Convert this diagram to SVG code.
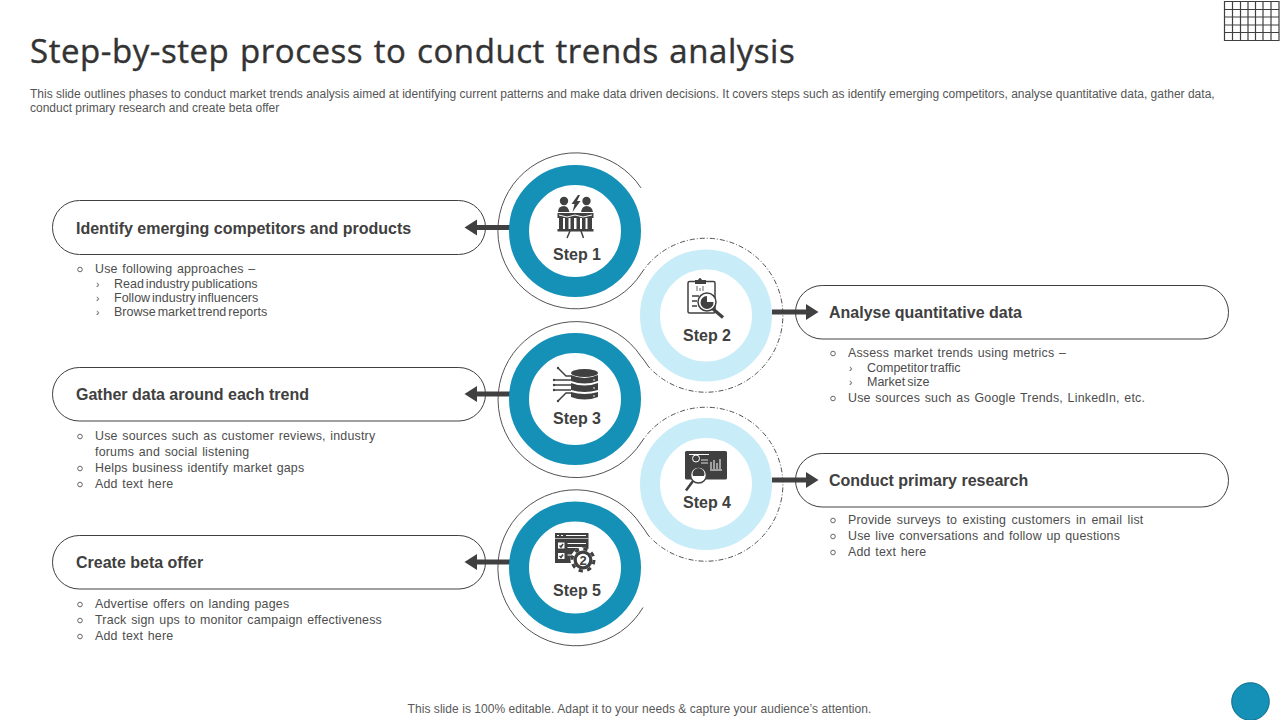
<svg xmlns="http://www.w3.org/2000/svg" width="1280" height="720" viewBox="0 0 1280 720">
<style>
text{font-family:"Liberation Sans",Arial,sans-serif;fill:#404040}
.title{font-family:"Open Sans","Liberation Sans",sans-serif;font-size:33px;fill:#333;stroke:#333;stroke-width:.4;letter-spacing:.55px;word-spacing:1.500px}
.sub{font-size:12px;fill:#555}
.head{font-size:16px;font-weight:700}
.step{font-size:16px;font-weight:700;text-anchor:middle}
.b{font-size:12.4px;fill:#4d4d4d;letter-spacing:.2px;word-spacing:1px}
.s{font-size:12.500px;fill:#4d4d4d;word-spacing:-1.500px}
.c{font-size:10px;fill:#4d4d4d}
.pill{fill:#fff;stroke:#404040;stroke-width:1}
.ring1{fill:#fff;stroke:#1591b8;stroke-width:20}
.ring2{fill:#fff;stroke:#c9edf8;stroke-width:20}
.thin{fill:none;stroke:#404040;stroke-width:.9}
.dash{fill:none;stroke:#404040;stroke-width:.9;stroke-dasharray:5 2 1 2}
.ar{fill:#404040;stroke:none}
.ic{fill:#404040}
.icl{fill:none;stroke:#404040;stroke-width:1.500}
.w{fill:none;stroke:#fff;stroke-width:1}
.bul{fill:none;stroke:#555;stroke-width:.9}
</style>
<rect width="1280" height="720" fill="#fff"/>
<text x="30" y="63" class="title">Step-by-step process to conduct trends analysis</text>
<text x="30" y="98" class="sub">This slide outlines phases to conduct market trends analysis aimed at identifying current patterns and make data driven decisions. It covers steps such as identify emerging competitors, analyse quantitative data, gather data,</text>
<text x="30" y="112" class="sub">conduct primary research and create beta offer</text>
<path id="grid" fill="none" stroke="#404040" stroke-width="1.200" d="M1224.500 1.500H1279V40.500H1224.500ZM1224.500 9.500H1279M1224.500 17H1279M1224.500 25H1279M1224.500 32.500H1279M1232.500 1.500V40.500M1240.500 1.500V40.500M1248 1.500V40.500M1255.500 1.500V40.500M1263 1.500V40.500M1271 1.500V40.500"/>
<g id="connectors">
<path class="thin" d="M641 187.900A78 78 0 1 0 641.500 273"/>
<path class="dash" d="M641.500 273A77 77 0 1 1 648 366"/>
<path class="thin" d="M648 366Q645 361 641 356.400A78 78 0 1 0 641.500 442"/>
<path class="dash" d="M641.500 442A77 77 0 1 1 648 535"/>
<path class="thin" d="M648 535Q645 530 641 524.900A78 78 0 1 0 643 607.500"/>
</g>
<g id="pill1"><rect class="pill" x="52.500" y="200.500" width="433" height="54" rx="27"/><text x="76" y="234" class="head">Identify emerging competitors and products</text></g>
<g id="pill3"><rect class="pill" x="52.500" y="367.500" width="433" height="53.500" rx="26.700"/><text x="76" y="400" class="head">Gather data around each trend</text></g>
<g id="pill5"><rect class="pill" x="52.500" y="535.500" width="433" height="53.500" rx="26.700"/><text x="76" y="568" class="head">Create beta offer</text></g>
<g id="pill2"><rect class="pill" x="795.500" y="285.500" width="433" height="53.500" rx="26.700"/><text x="829" y="318" class="head">Analyse quantitative data</text></g>
<g id="pill4"><rect class="pill" x="795.500" y="453.500" width="433" height="53.500" rx="26.700"/><text x="829" y="486" class="head">Conduct primary research</text></g>
<g id="arrows">
<path class="ar" d="M510 225V230H477V235.500L464.500 227.500L477 219.500V225Z"/>
<path class="ar" d="M510 391.500V396.500H477V402L464.500 394L477 386V391.500Z"/>
<path class="ar" d="M510 559.500V564.500H477V570L464.500 562L477 554V559.500Z"/>
<path class="ar" d="M772 309.500V314.500H806V320L818.500 312L806 304V309.500Z"/>
<path class="ar" d="M772 477.500V482.500H806V488L818.500 480L806 472V477.500Z"/>
</g>
<g id="step1"><circle class="ring1" cx="575" cy="231" r="56"/>
<circle class="ic" cx="564" cy="201" r="4.200"/><circle class="ic" cx="586.500" cy="201" r="4.200"/>
<path class="ic" d="M558 212Q558 206 564 206Q568 206 569.500 212ZM581 212Q582 206 586.500 206Q592 206 593 212ZM578 195L571.500 204H574.500L572.500 212L580.500 201H577L580 195Z"/>
<path class="ic" d="M557.500 213H593.500V218H557.500ZM559 218H563V229H559ZM565 218H568.500V229H565ZM570.500 218H574V229H570.500ZM576.500 218H580V229H576.500ZM582 218H585.500V229H582ZM587.500 218H592V229H587.500ZM557.500 229H593.500V231.500H557.500Z"/>
<path class="w" d="M559 215L567 217L575 215L583 217L592 215" stroke-width=".8"/>
<path class="icl" d="M570 231L567 238M581 231L583.500 238"/>
<text x="577" y="260" class="step">Step 1</text></g>
<g id="step2"><circle class="ring2" cx="706" cy="315.500" r="56"/>
<rect class="icl" x="688" y="281.500" width="27" height="31.500" rx="1.500"/><path class="ic" d="M695 280H698Q700 276 702 280H706V284H695Z"/>
<path d="M697 291V286M700 291V288M703 291V286" stroke="#999" stroke-width="1.500"/>
<circle cx="707" cy="302" r="9" fill="#fff" stroke="#404040" stroke-width="1.500"/><path d="M707 302V296A6.500 6.500 0 1 0 713.500 302Z" class="ic"/><path d="M713 309L723 317.500" stroke="#404040" stroke-width="3.200"/>
<path class="icl" d="M692 296H699M692 301H697M692 306H697" stroke-width="1"/>
<text x="707" y="341" class="step">Step 2</text></g>
<g id="step3"><circle class="ring1" cx="575" cy="399" r="56"/>
<ellipse class="ic" cx="584.500" cy="373" rx="13.500" ry="4"/><path class="ic" d="M571 375Q584.500 381 598 375V381Q584.500 386 571 381ZM571 383Q584.500 388 598 383V390Q584.500 394 571 390ZM571 392Q584.500 396 598 392V397Q584.500 402 571 397Z"/>
<circle cx="594" cy="380" r=".8" fill="#fff"/><circle cx="594" cy="388" r=".8" fill="#fff"/><circle cx="594" cy="396" r=".8" fill="#fff"/>
<path class="icl" d="M558 368L566 376H571M554 380H571M554 385H571M554 390H571M558 401L566 393H571" stroke-width="1"/>
<circle class="ic" cx="558" cy="368" r="1.200"/><circle class="ic" cx="554" cy="380" r="1.200"/><circle class="ic" cx="554" cy="385" r="1.200"/><circle class="ic" cx="554" cy="390" r="1.200"/><circle class="ic" cx="558" cy="401" r="1.200"/>
<text x="577" y="424" class="step">Step 3</text></g>
<g id="step4"><circle class="ring2" cx="706" cy="484" r="56"/>
<rect class="ic" x="685" y="451" width="42" height="28.500" rx="1.500"/><circle cx="696" cy="458.500" r="3.500" fill="none" stroke="#fff" stroke-width="1"/><path d="M701 460H708M701 463H708" stroke="#ddd" stroke-width="1"/><path d="M689 454.500H709M711 469V462M714 469V460M717 469V463M720 469V459M710 470H722" stroke="#fff" stroke-width="1"/>
<circle cx="698.500" cy="475" r="8" fill="#fff" stroke="#404040" stroke-width="1.500"/><path class="ic" d="M692.500 474A6 6 0 0 1 704.500 474L704 476H693Z"/><path d="M693 481L686 490.500" stroke="#404040" stroke-width="2.500"/>
<text x="707" y="508" class="step">Step 4</text></g>
<g id="step5"><circle class="ring1" cx="575" cy="567.500" r="56"/>
<path class="ic" d="M555 533H588.500V555H572V563H555Z"/><path d="M557 535.500H559M561 535.500H563M566 535.500H586" stroke="#fff" stroke-width="1"/><path d="M555 538.500H588.500" stroke="#fff" stroke-width=".6"/><rect x="558" y="542.500" width="6.500" height="6" fill="#fff"/><rect x="558" y="553" width="6.500" height="6" fill="#fff"/><path d="M559.500 545.500L561 547L563 544M559.500 556L561 557.500L563 554.500" class="icl" stroke-width=".8"/><path d="M567.500 543.500H586M567.500 547.500H582M567.500 555H574" stroke="#fff" stroke-width="1"/>
<circle cx="583" cy="560" r="12.500" fill="#fff"/><circle cx="583" cy="560" r="9.500" fill="#404040"/><circle cx="583" cy="560" r="11" fill="none" stroke="#404040" stroke-width="3" stroke-dasharray="4.300 4.340"/><circle cx="583" cy="560" r="6.200" fill="#fff"/>
<text x="583" y="565" font-size="13" font-weight="700" text-anchor="middle">2</text>
<text x="577" y="596" class="step">Step 5</text></g>
<g id="text1">
<circle class="bul" cx="80" cy="269.500" r="2.300"/><text x="95" y="273" class="b">Use following  approaches –</text>
<text x="96" y="287.500" class="c">›</text><text x="114" y="288" class="s">Read industry publications</text>
<text x="96" y="301.500" class="c">›</text><text x="114" y="302" class="s">Follow industry influencers</text>
<text x="96" y="315.500" class="c">›</text><text x="114" y="316" class="s">Browse market trend reports</text></g>
<g id="text2">
<circle class="bul" cx="833" cy="353.500" r="2.300"/><text x="848" y="357" class="b">Assess market trends using metrics –</text>
<text x="849" y="371.500" class="c">›</text><text x="867" y="372" class="s">Competitor traffic</text>
<text x="849" y="385.500" class="c">›</text><text x="867" y="386" class="s">Market size</text>
<circle class="bul" cx="833" cy="398.500" r="2.300"/><text x="848" y="402" class="b">Use sources such as Google Trends, LinkedIn, etc.</text></g>
<g id="text3">
<circle class="bul" cx="80" cy="436.500" r="2.300"/><text x="95" y="440" class="b">Use sources such as customer reviews, industry</text><text x="95" y="456" class="b">forums and social listening</text>
<circle class="bul" cx="80" cy="468.500" r="2.300"/><text x="95" y="472" class="b">Helps business identify market gaps</text>
<circle class="bul" cx="80" cy="484.500" r="2.300"/><text x="95" y="488" class="b">Add text here</text></g>
<g id="text4">
<circle class="bul" cx="833" cy="520.500" r="2.300"/><text x="848" y="524" class="b" style="word-spacing:1.800px">Provide surveys to existing customers in email list</text>
<circle class="bul" cx="833" cy="536.500" r="2.300"/><text x="848" y="540" class="b">Use live conversations and follow up questions</text>
<circle class="bul" cx="833" cy="552.500" r="2.300"/><text x="848" y="556" class="b">Add text here</text></g>
<g id="text5">
<circle class="bul" cx="80" cy="604.500" r="2.300"/><text x="95" y="608" class="b">Advertise offers on landing pages</text>
<circle class="bul" cx="80" cy="620.500" r="2.300"/><text x="95" y="624" class="b">Track sign ups to monitor campaign effectiveness</text>
<circle class="bul" cx="80" cy="636.500" r="2.300"/><text x="95" y="640" class="b">Add text here</text></g>
<text x="639.500" y="713" font-size="12" text-anchor="middle" letter-spacing=".05" style="fill:#595959">This slide is 100% editable. Adapt it to your needs &amp; capture your audience’s attention.</text>
<circle id="dot" cx="1250.500" cy="701.500" r="18.800" fill="#1591b8" stroke="#0f6e8c" stroke-width="1"/>
</svg>
